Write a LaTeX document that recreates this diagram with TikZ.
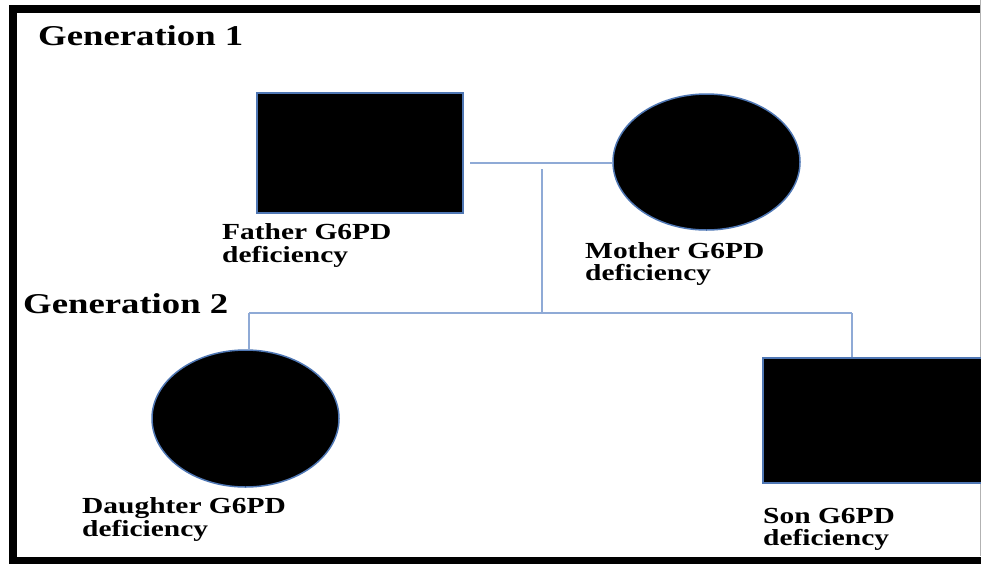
\documentclass[tikz,border=0pt]{standalone}
\usepackage{fontspec}
\setmainfont{Liberation Serif}
\usetikzlibrary{shapes.geometric}

\definecolor{linkblue}{RGB}{143,170,214}
\definecolor{edgeblue}{RGB}{79,119,180}
\newcommand\widen[1]{\scalebox{1.28}[1]{#1}}

\tikzset{
  male/.style={rectangle, draw=edgeblue, fill=black, line width=1.5pt, inner sep=0pt},
  female/.style={ellipse, draw=edgeblue, fill=black, line width=1.5pt, inner sep=0pt,
                 minimum width=187pt, minimum height=136pt},
  link/.style={draw=linkblue, line width=2.5pt},
  gentitle/.style={anchor=base west, inner sep=0pt, font=\bfseries\fontsize{28.7}{30}\selectfont},
  caption/.style={anchor=base west, inner sep=0pt, font=\bfseries\fontsize{23}{23}\selectfont},
}

\begin{document}
\begin{tikzpicture}[x=1pt, y=-1pt]
\useasboundingbox (0,0) rectangle (981,563);
\clip (0,0) rectangle (981,563);
\fill[white] (0,0) rectangle (981,563);

% outer frame
\draw[line width=8pt] (13,9) rectangle (990,560.5);
\draw[gray!60, line width=0.8pt] (980.5,0) -- (980.5,556);

% generation titles
\node[gentitle] (gen1) at (38,45) {\widen{Generation 1}};
\node[gentitle] (gen2) at (23,313) {\widen{Generation 2}};

% parents
\node[male, minimum width=206pt, minimum height=120pt] (father) at (360,153) {};
\node[female] (mother) at (706.5,162) {};

% children
\node[female, minimum height=137pt] (daughter) at (245.5,418.5) {};
\node[male, minimum width=240pt, minimum height=125pt] (son) at (883,420.5) {};

% pedigree lines
\coordinate (mate) at (470,163);
\coordinate (desctop) at (542,169);
\coordinate (sibs) at (542,313);
\coordinate (sibL) at (249,313);
\coordinate (sibR) at (852,313);
\draw[link] (mate) -- (mother.west |- mate);
\draw[link] (desctop) -- (sibs);
\draw[link] (sibL) -- (sibR);
\draw[link] (sibL) -- (sibL |- daughter.north);
\draw[link] (sibR) -- (sibR |- son.north);

% captions
\node[caption] (fatherA) at (222,239) {\widen{Father G6PD}};
\node[caption] (fatherB) at (222,262) {\widen{deficiency}};
\node[caption] (motherA) at (585,258) {\widen{Mother G6PD}};
\node[caption] (motherB) at (585,280) {\widen{deficiency}};
\node[caption] (daughterA) at (82,513) {\widen{Daughter G6PD}};
\node[caption] (daughterB) at (82,536) {\widen{deficiency}};
\node[caption] (sonA) at (763,523) {\widen{Son G6PD}};
\node[caption] (sonB) at (763,545) {\widen{deficiency}};
\end{tikzpicture}
\end{document}
